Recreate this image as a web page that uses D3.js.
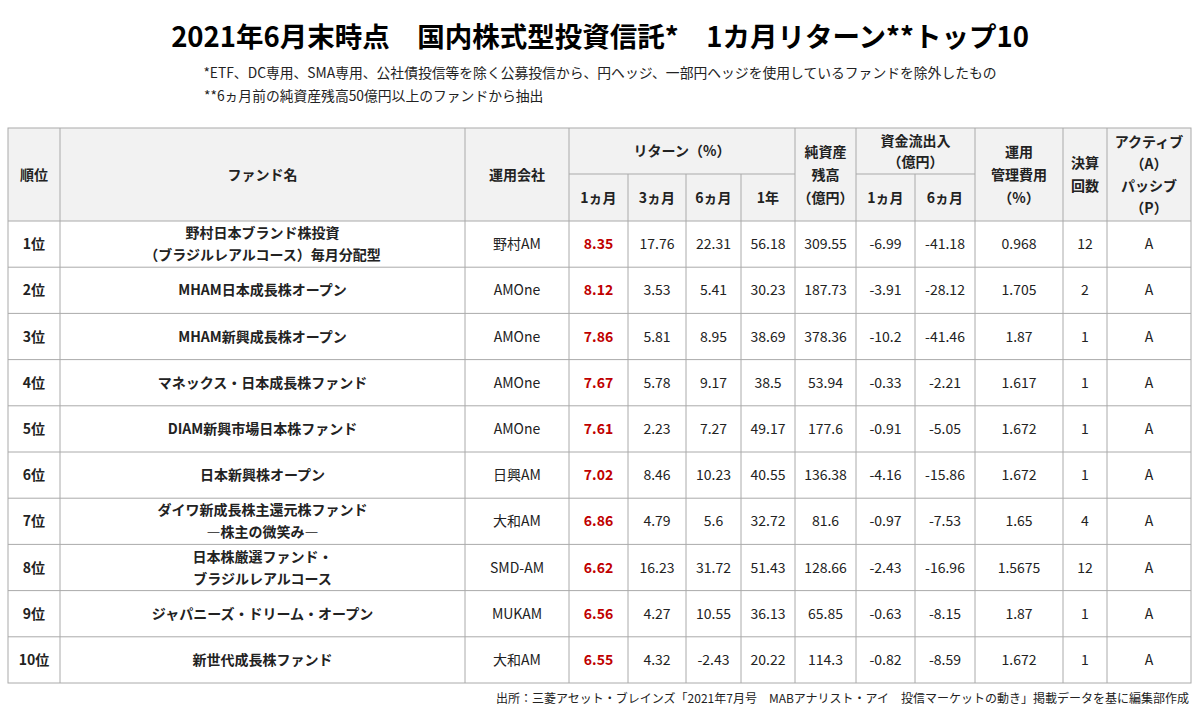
<!DOCTYPE html>
<html><head><meta charset="utf-8">
<script src="https://cdn.jsdelivr.net/npm/d3@7"></script>
<style>body{margin:0;background:#fff;font-family:"Noto Sans CJK JP","Noto Sans",sans-serif;}</style>
</head><body><div id="chart"></div>
<script>
const ranks = ['1位','2位','3位','4位','5位','6位','7位','8位','9位','10位'];
const funds = [['野村日本ブランド株投資','（ブラジルレアルコース）毎月分配型'],['MHAM日本成長株オープン'],['MHAM新興成長株オープン'],['マネックス・日本成長株ファンド'],['DIAM新興市場日本株ファンド'],['日本新興株オープン'],['ダイワ新成長株主還元株ファンド','―株主の微笑み―'],['日本株厳選ファンド・','ブラジルレアルコース'],['ジャパニーズ・ドリーム・オープン'],['新世代成長株ファンド']];
const companies = ['野村AM','AMOne','AMOne','AMOne','AMOne','日興AM','大和AM','SMD-AM','MUKAM','大和AM'];
const ret1m = ['8.35','8.12','7.86','7.67','7.61','7.02','6.86','6.62','6.56','6.55'];
const ret3m = ['17.76','3.53','5.81','5.78','2.23','8.46','4.79','16.23','4.27','4.32'];
const ret6m = ['22.31','5.41','8.95','9.17','7.27','10.23','5.6','31.72','10.55','-2.43'];
const ret1y = ['56.18','30.23','38.69','38.5','49.17','40.55','32.72','51.43','36.13','20.22'];
const assets = ['309.55','187.73','378.36','53.94','177.6','136.38','81.6','128.66','65.85','114.3'];
const flow1m = ['-6.99','-3.91','-10.2','-0.33','-0.91','-4.16','-0.97','-2.43','-0.63','-0.82'];
const flow6m = ['-41.18','-28.12','-41.46','-2.21','-5.05','-15.86','-7.53','-16.96','-8.15','-8.59'];
const fees = ['0.968','1.705','1.87','1.617','1.672','1.672','1.65','1.5675','1.87','1.672'];
const settles = ['12','2','1','1','1','1','4','12','1','1'];
const styles = ['A','A','A','A','A','A','A','A','A','A'];

const W = 1200, H = 717;
const svg = d3.select('#chart').append('svg').attr('width', W).attr('height', H);
const colX = [8, 60, 465, 569, 628, 686, 741, 795, 856, 915, 975, 1063, 1107, 1191];
const headTop = 128, headMid = 174, headBot = 221, tableBot = 683;
const y = d3.scaleLinear().domain([0, 10]).range([headBot, tableBot]);
const line = '#aaa';

svg.append('text').attr('x', W/2).attr('y', 47).attr('text-anchor','middle')
  .attr('font-size', 27.5).attr('font-weight', 700).text('2021年6月末時点　国内株式型投資信託*　1カ月リターン**トップ10');
svg.append('text').attr('x', W/2).attr('y', 78).attr('text-anchor','middle').attr('font-size', 13.8).attr('fill','#222')
  .text('*ETF、DC専用、SMA専用、公社債投信等を除く公募投信から、円ヘッジ、一部円ヘッジを使用しているファンドを除外したもの');
svg.append('text').attr('x', 204).attr('y', 101).attr('font-size', 13.8).attr('fill','#222')
  .text('**6ヵ月前の純資産残高50億円以上のファンドから抽出');

// header background
svg.append('rect').attr('x', colX[0]).attr('y', headTop).attr('width', colX[13]-colX[0]).attr('height', headBot-headTop).attr('fill','#f2f2f2');

const g = svg.append('g').attr('stroke', line).attr('stroke-width', 1).attr('fill','none');
g.append('rect').attr('x', colX[0]).attr('y', headTop).attr('width', colX[13]-colX[0]).attr('height', tableBot-headTop);
colX.slice(1, -1).forEach((x, i) => {
  const idx = i + 1;
  const top = (idx === 4 || idx === 5 || idx === 6 || idx === 9) ? headMid : headTop;
  g.append('line').attr('x1', x).attr('x2', x).attr('y1', top).attr('y2', tableBot);
});
[[3,7],[8,10]].forEach(([a,b]) => g.append('line').attr('x1', colX[a]).attr('x2', colX[b]).attr('y1', headMid).attr('y2', headMid));
d3.range(0, 10).forEach(i => g.append('line').attr('x1', colX[0]).attr('x2', colX[13]).attr('y1', y(i)).attr('y2', y(i)));

function multi(lines, cx, cy, lh, opts) {
  const t = svg.append('text').attr('text-anchor','middle').attr('font-size', opts.size || 14)
    .attr('font-weight', opts.bold ? 700 : 400).attr('fill', opts.fill || '#222');
  lines.forEach((s, k) => t.append('tspan').attr('x', cx).attr('y', cy + (k - (lines.length-1)/2) * lh + 5).text(s));
}
const mid = (a, b) => (colX[a] + colX[b]) / 2;
const hb = {bold: true, size: 14};
multi(['順位'], mid(0,1), (headTop+headBot)/2, 22, hb);
multi(['ファンド名'], mid(1,2), (headTop+headBot)/2, 22, hb);
multi(['運用会社'], mid(2,3), (headTop+headBot)/2, 22, hb);
multi(['リターン（%）'], mid(3,7), (headTop+headMid)/2, 22, hb);
['1ヵ月','3ヵ月','6ヵ月','1年'].forEach((s, k) => multi([s], mid(3+k,4+k), (headMid+headBot)/2, 22, hb));
multi(['純資産','残高','（億円）'], mid(7,8), (headTop+headBot)/2, 23, hb);
multi(['資金流出入','（億円）'], mid(8,10), (headTop+headMid)/2, 21, hb);
['1ヵ月','6ヵ月'].forEach((s, k) => multi([s], mid(8+k,9+k), (headMid+headBot)/2, 22, hb));
multi(['運用','管理費用','（%）'], mid(10,11), (headTop+headBot)/2, 23, hb);
multi(['決算','回数'], mid(11,12), (headTop+headBot)/2, 23, hb);
multi(['アクティブ','（A）','パッシブ','（P）'], mid(12,13), (headTop+headBot)/2, 22, hb);

const cols = [ranks, funds, companies, ret1m, ret3m, ret6m, ret1y, assets, flow1m, flow6m, fees, settles, styles];
d3.range(10).forEach(i => {
  const cy = (y(i) + y(i+1)) / 2;
  cols.forEach((arr, c) => {
    const v = arr[i];
    const lines = Array.isArray(v) ? v : [v];
    const opts = c === 0 || c === 1 ? {bold: true} : c === 3 ? {bold: true, fill: '#c00000'} : {};
    multi(lines, mid(c, c+1), cy, 22, opts);
  });
});

svg.append('text').attr('x', 1189).attr('y', 703).attr('text-anchor','end').attr('font-size', 12).attr('fill','#222')
  .text('出所：三菱アセット・ブレインズ「2021年7月号　MABアナリスト・アイ　投信マーケットの動き」掲載データを基に編集部作成');
</script></body></html>
